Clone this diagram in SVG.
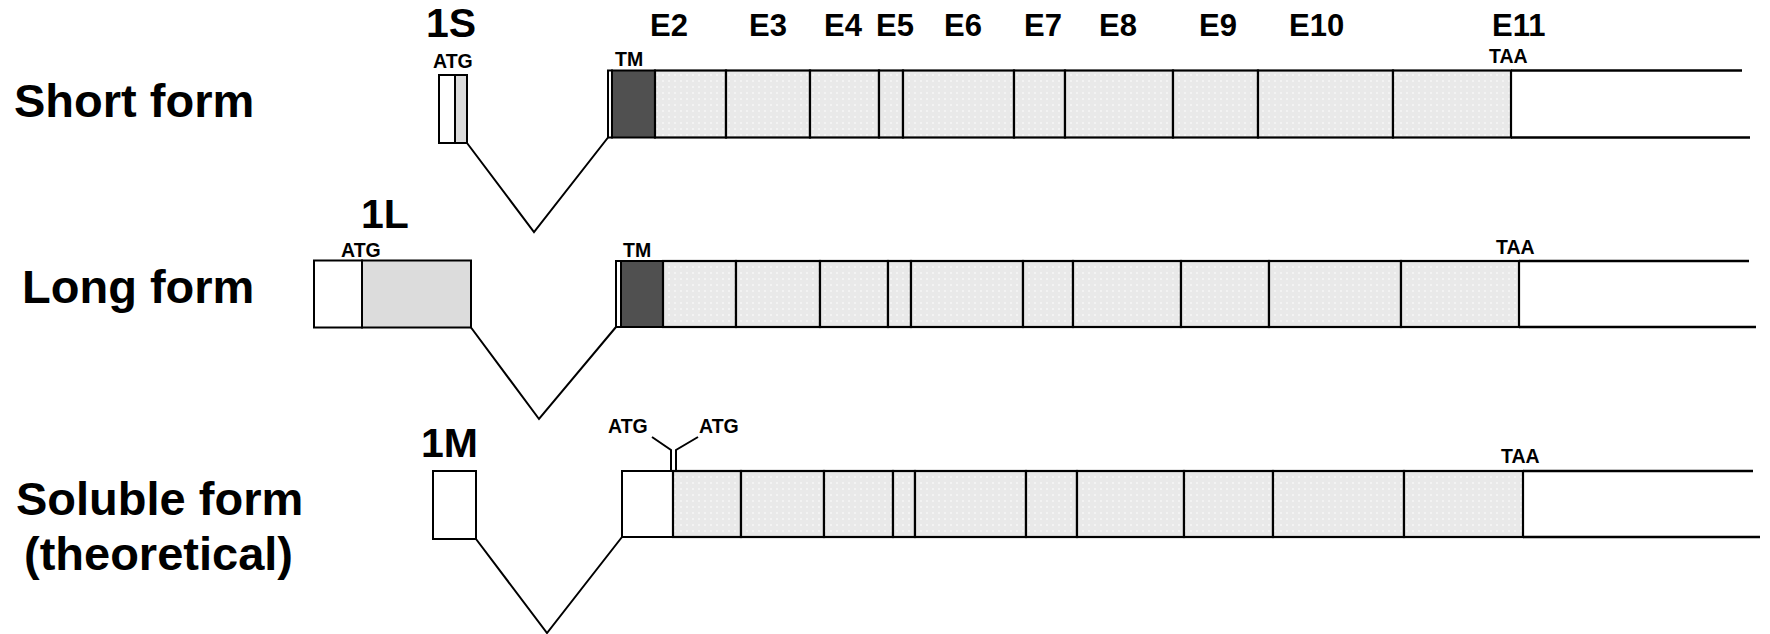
<svg xmlns="http://www.w3.org/2000/svg" width="1770" height="634" viewBox="0 0 1770 634">
<defs>
<pattern id="dots" width="6" height="6" patternUnits="userSpaceOnUse">
<rect width="6" height="6" fill="#e9e9e9"/>
<circle cx="3" cy="3" r="1" fill="#f7f7f7"/>
</pattern>
<style>
.ex{fill:url(#dots);stroke:#000;stroke-width:2.2}
.tm{fill:#505050;stroke:#000;stroke-width:2}
.wh{fill:#fff;stroke:#000;stroke-width:2}
.g1{fill:#dcdcdc;stroke:#000;stroke-width:2}
.ln{stroke:#000;stroke-width:2.5;fill:none}
.cn{stroke:#000;stroke-width:2;fill:none}
text{font-family:"Liberation Sans",Arial,sans-serif;font-weight:bold;fill:#000}
.big{font-size:47px}
.num{font-size:41px}
.el{font-size:31px}
.sm{font-size:19.5px}
</style>
</defs>
<rect width="1770" height="634" fill="#fff"/>

<g id="labels">
<text class="big" x="14" y="117">Short form</text>
<text class="big" x="22" y="303">Long form</text>
<text class="big" x="16" y="515">Soluble form</text>
<text class="big" x="24" y="570">(theoretical)</text>
<text class="num" x="426" y="37">1S</text>
<text class="num" x="361" y="228">1L</text>
<text class="num" x="421" y="457">1M</text>
</g>

<g id="exon-labels">
<text class="el" x="650" y="36">E2</text>
<text class="el" x="749" y="36">E3</text>
<text class="el" x="824" y="36">E4</text>
<text class="el" x="876" y="36">E5</text>
<text class="el" x="944" y="36">E6</text>
<text class="el" x="1024" y="36">E7</text>
<text class="el" x="1099" y="36">E8</text>
<text class="el" x="1199" y="36">E9</text>
<text class="el" x="1289" y="36">E10</text>
<text class="el" x="1492" y="36">E11</text>
</g>

<g id="short-form">
<g id="short-1S">
<rect class="wh" x="439" y="75" width="16" height="68"/>
<rect class="g1" x="455" y="75" width="12" height="68"/>
<text class="sm" x="433" y="68">ATG</text>
</g>
<g id="short-exons">
<rect class="wh" x="608" y="70.5" width="4" height="67"/>
<rect class="tm" x="612" y="70.5" width="43" height="67"/>
<rect class="ex" x="655" y="70.5" width="71" height="67"/>
<rect class="ex" x="726" y="70.5" width="84" height="67"/>
<rect class="ex" x="810" y="70.5" width="69" height="67"/>
<rect class="ex" x="879" y="70.5" width="24" height="67"/>
<rect class="ex" x="903" y="70.5" width="111" height="67"/>
<rect class="ex" x="1014" y="70.5" width="51" height="67"/>
<rect class="ex" x="1065" y="70.5" width="108" height="67"/>
<rect class="ex" x="1173" y="70.5" width="85" height="67"/>
<rect class="ex" x="1258" y="70.5" width="135" height="67"/>
<rect class="ex" x="1393" y="70.5" width="118" height="67"/>
<line class="ln" x1="1511" y1="70.5" x2="1742" y2="70.5"/>
<line class="ln" x1="1511" y1="137.5" x2="1750" y2="137.5"/>
<text class="sm" x="615" y="65.5">TM</text>
<text class="sm" x="1489" y="62.5">TAA</text>
</g>
</g>

<g id="long-form">
<g id="long-1L">
<rect class="wh" x="314" y="260.5" width="48" height="67"/>
<rect class="g1" x="362" y="260.5" width="109" height="67"/>
<text class="sm" x="341" y="256.5">ATG</text>
</g>
<g id="long-exons">
<rect class="wh" x="616" y="261" width="5" height="66"/>
<rect class="tm" x="621" y="261" width="42" height="66"/>
<rect class="ex" x="663" y="261" width="73" height="66"/>
<rect class="ex" x="736" y="261" width="84" height="66"/>
<rect class="ex" x="820" y="261" width="68" height="66"/>
<rect class="ex" x="888" y="261" width="23" height="66"/>
<rect class="ex" x="911" y="261" width="112" height="66"/>
<rect class="ex" x="1023" y="261" width="50" height="66"/>
<rect class="ex" x="1073" y="261" width="108" height="66"/>
<rect class="ex" x="1181" y="261" width="88" height="66"/>
<rect class="ex" x="1269" y="261" width="132" height="66"/>
<rect class="ex" x="1401" y="261" width="118" height="66"/>
<line class="ln" x1="1519" y1="261" x2="1749" y2="261"/>
<line class="ln" x1="1519" y1="327" x2="1756" y2="327"/>
<text class="sm" x="623" y="256.5">TM</text>
<text class="sm" x="1496" y="254">TAA</text>
</g>
</g>

<g id="soluble-form">
<g id="soluble-1M">
<rect class="wh" x="433" y="471" width="43" height="68"/>
</g>
<g id="soluble-exons">
<rect class="wh" x="622" y="471" width="51" height="66"/>
<rect class="ex" x="673" y="471" width="68" height="66"/>
<rect class="ex" x="741" y="471" width="83" height="66"/>
<rect class="ex" x="824" y="471" width="69" height="66"/>
<rect class="ex" x="893" y="471" width="22" height="66"/>
<rect class="ex" x="915" y="471" width="111" height="66"/>
<rect class="ex" x="1026" y="471" width="51" height="66"/>
<rect class="ex" x="1077" y="471" width="107" height="66"/>
<rect class="ex" x="1184" y="471" width="89" height="66"/>
<rect class="ex" x="1273" y="471" width="131" height="66"/>
<rect class="ex" x="1404" y="471" width="119" height="66"/>
<line class="ln" x1="1523" y1="471" x2="1753" y2="471"/>
<line class="ln" x1="1523" y1="537" x2="1760" y2="537"/>
<text class="sm" x="608" y="432.5">ATG</text>
<text class="sm" x="699" y="432.5">ATG</text>
<text class="sm" x="1501" y="463">TAA</text>
</g>
</g>

<g id="connectors">
<polyline class="cn" points="467,143 534,232 608,137.5"/>
<polyline class="cn" points="471,327.5 539,419 616,327"/>
<polyline class="cn" points="476,539 547,633 622,537"/>
<polyline class="cn" points="652,437 671,450 671,471"/>
<polyline class="cn" points="698,437 676,450 676,471"/>
</g>
</svg>
